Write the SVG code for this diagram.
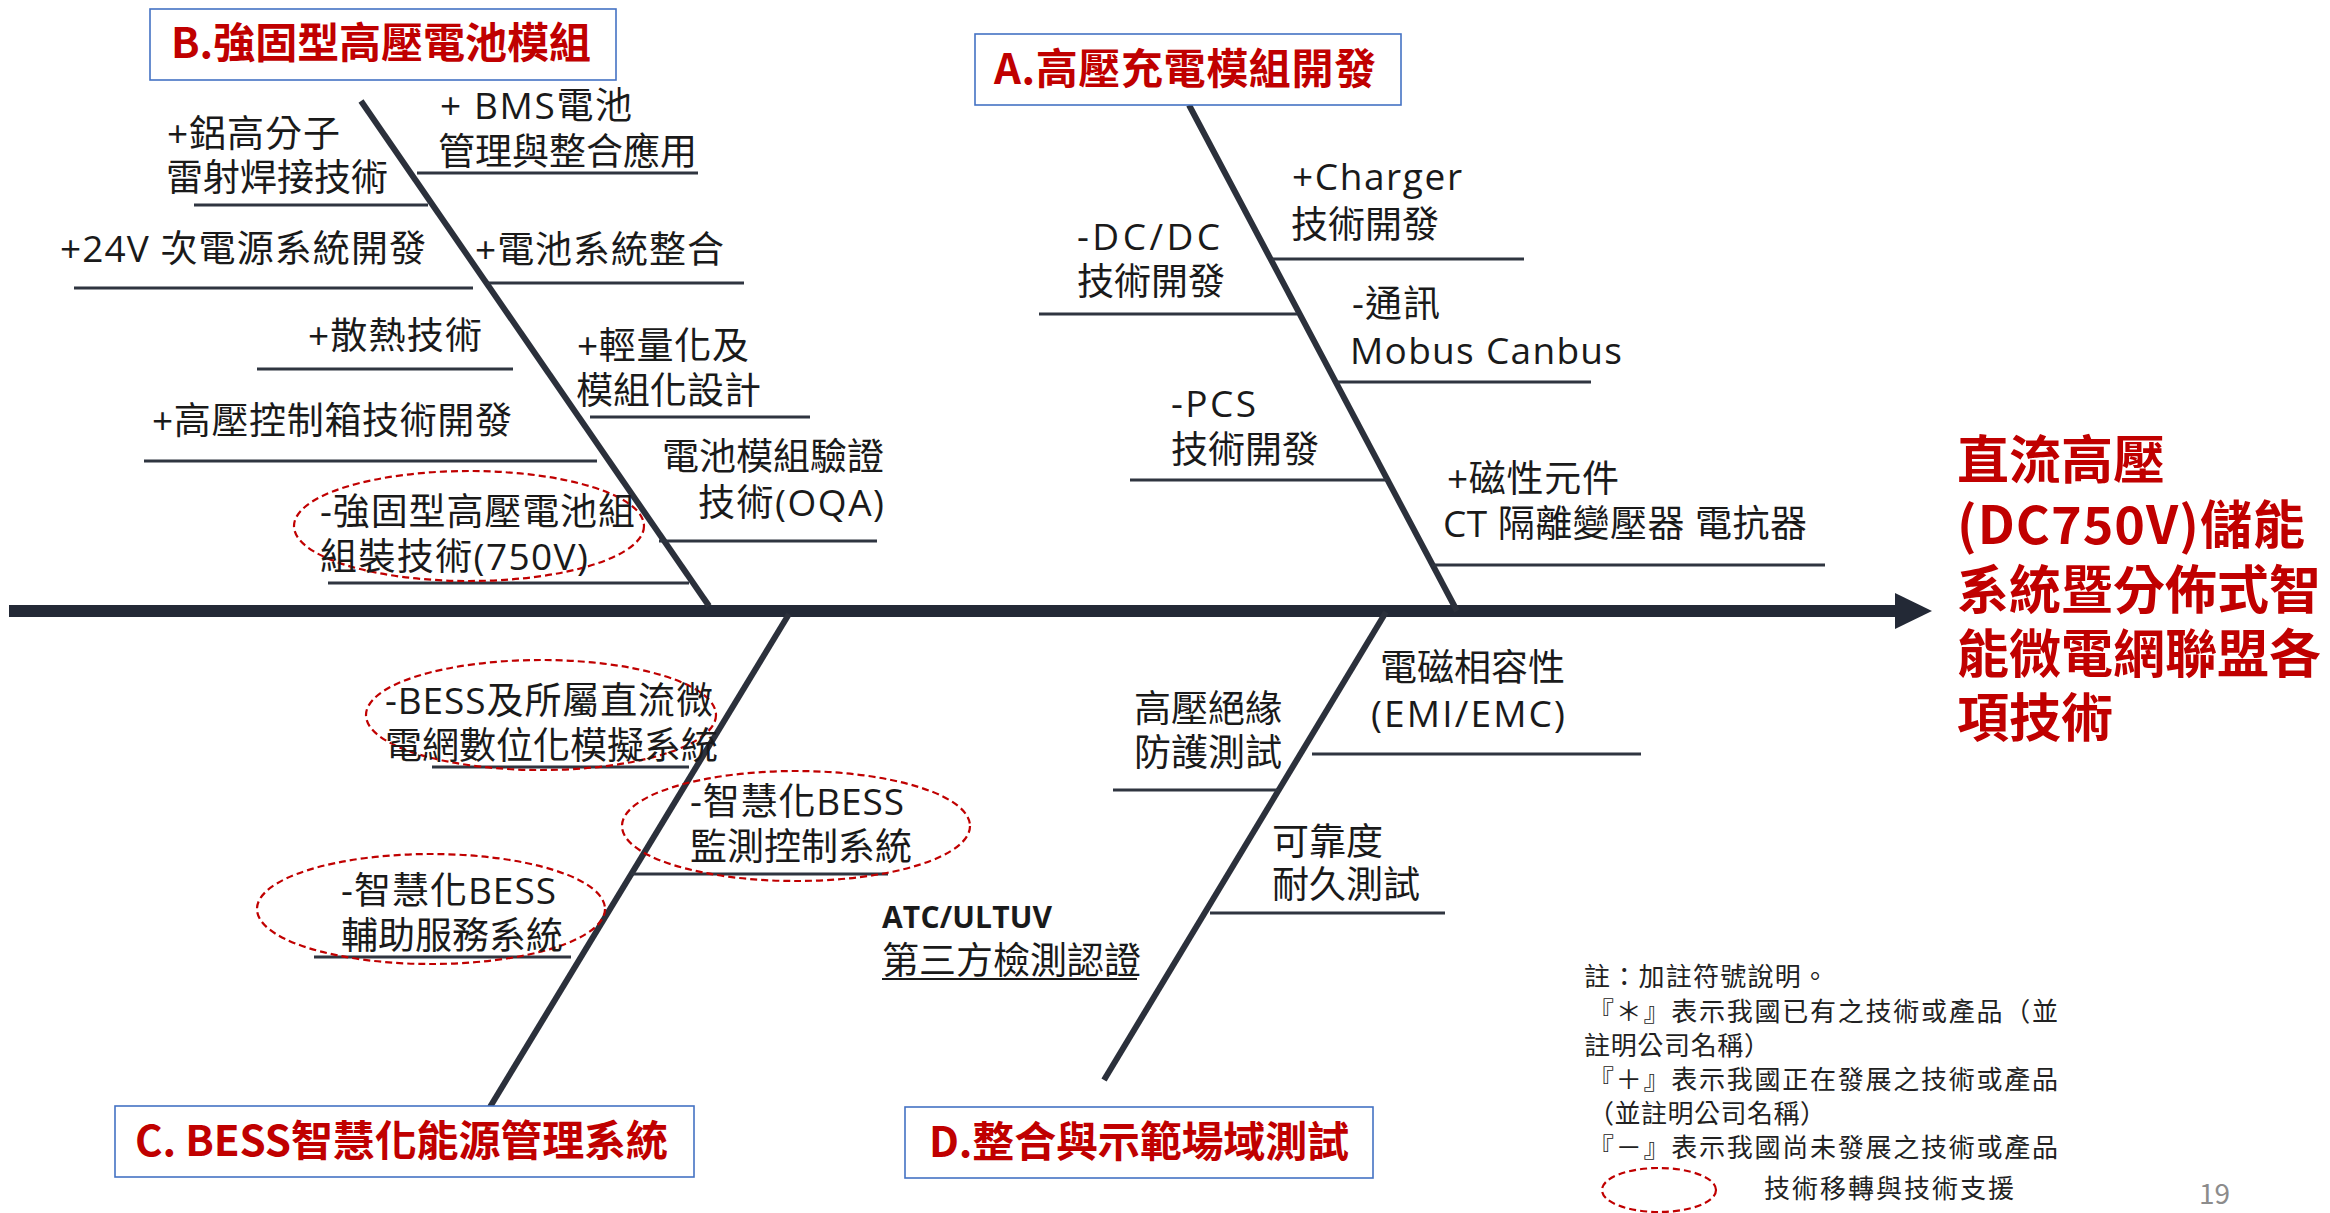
<svg xmlns="http://www.w3.org/2000/svg" width="2330" height="1213" viewBox="0 0 2330 1213">
<style>
.t{font-family:"Open Sans","Noto Sans CJK TC","Noto Sans CJK SC",sans-serif;font-size:37px;fill:#1a1a1a}
.ti{font-family:"Noto Sans CJK TC","Noto Sans CJK SC",sans-serif;font-size:42px;font-weight:bold;fill:#C00000}
.goal{font-family:"Noto Sans CJK TC","Noto Sans CJK SC",sans-serif;font-size:52px;font-weight:bold;fill:#C00000}
.note{font-family:"Noto Sans CJK TC","Noto Sans CJK SC",sans-serif;font-size:26px;fill:#222}
.box{fill:#fff;stroke:#4472C4;stroke-width:1.6}
.br{stroke:#2f3540;stroke-width:3;fill:none}
.sp{stroke:#2b303b;stroke-width:6;fill:none}
.ell{fill:none;stroke:#C00000;stroke-width:2.2;stroke-dasharray:7 4}
</style>
<rect width="2330" height="1213" fill="#fff"/>
<g id="connectors">
<line x1="9" y1="611" x2="1897" y2="611" stroke="#232936" stroke-width="12"/>
<polygon points="1895,593 1932,611 1895,629" fill="#232936"/>
<line class="sp" x1="361" y1="101" x2="709" y2="606"/>
<line class="sp" x1="1189" y1="105" x2="1457" y2="611" stroke="#111"/>
<line class="sp" x1="789" y1="614" x2="490" y2="1107"/>
<line class="sp" x1="1386" y1="612" x2="1104" y2="1080" stroke="#222"/>
<line class="br" x1="194" y1="205" x2="428" y2="205"/>
<line class="br" x1="417" y1="173" x2="698" y2="173"/>
<line class="br" x1="74" y1="288" x2="473" y2="288"/>
<line class="br" x1="487" y1="283" x2="744" y2="283"/>
<line class="br" x1="257" y1="369" x2="513" y2="369"/>
<line class="br" x1="590" y1="417" x2="810" y2="417"/>
<line class="br" x1="144" y1="461" x2="597" y2="461"/>
<line class="br" x1="659" y1="541" x2="877" y2="541"/>
<line class="br" x1="328" y1="583" x2="689" y2="583"/>
<line class="br" x1="1272" y1="259" x2="1524" y2="259"/>
<line class="br" x1="1039" y1="314" x2="1297" y2="314"/>
<line class="br" x1="1336" y1="382" x2="1591" y2="382"/>
<line class="br" x1="1130" y1="480" x2="1387" y2="480"/>
<line class="br" x1="1432" y1="565" x2="1825" y2="565"/>
<line class="br" x1="432" y1="767" x2="689" y2="767"/>
<line class="br" x1="631" y1="874" x2="888" y2="874"/>
<line class="br" x1="314" y1="957" x2="571" y2="957"/>
<line class="br" x1="1312" y1="754" x2="1641" y2="754" stroke="#1a1a1a"/>
<line class="br" x1="1113" y1="790" x2="1279" y2="790" stroke="#1a1a1a"/>
<line class="br" x1="1210" y1="913" x2="1445" y2="913" stroke="#1a1a1a"/>
</g>
<g id="titleB"><rect class="box" x="150" y="9" width="466" height="71"/><text class="ti" x="171" y="58" textLength="420">B.強固型高壓電池模組</text></g>
<g id="titleA"><rect class="box" x="975" y="34" width="426" height="71"/><text class="ti" x="994" y="84" textLength="382">A.高壓充電模組開發</text></g>
<g id="titleC"><rect class="box" x="115" y="1106" width="579" height="71"/><text class="ti" x="135" y="1156" textLength="533">C. BESS智慧化能源管理系統</text></g>
<g id="titleD"><rect class="box" x="905" y="1107" width="468" height="71"/><text class="ti" x="929" y="1157" textLength="420">D.整合與示範場域測試</text></g>
<g id="goal">
<text class="goal"><tspan x="1957" y="479">直流高壓</tspan><tspan x="1957" y="544" textLength="348">(DC750V)儲能</tspan><tspan x="1957" y="609">系統暨分佈式智</tspan><tspan x="1957" y="673">能微電網聯盟各</tspan><tspan x="1957" y="737">項技術</tspan></text>
</g>
<g id="b1"><text class="t"><tspan x="167" y="147" textLength="173">+鋁高分子</tspan><tspan x="166" y="191">雷射焊接技術</tspan></text></g>
<g id="b2"><text class="t"><tspan x="440" y="119" textLength="192">+ BMS電池</tspan><tspan x="438" y="165">管理與整合應用</tspan></text></g>
<g id="b3"><text class="t" x="60" y="262" textLength="366">+24V 次電源系統開發</text></g>
<g id="b4"><text class="t" x="475" y="263" textLength="249">+電池系統整合</text></g>
<g id="b5"><text class="t" x="308" y="349" textLength="174">+散熱技術</text></g>
<g id="b6"><text class="t"><tspan x="577" y="359" textLength="172">+輕量化及</tspan><tspan x="576" y="404">模組化設計</tspan></text></g>
<g id="b7"><text class="t" x="152" y="434" textLength="360">+高壓控制箱技術開發</text></g>
<g id="b8"><text class="t"><tspan x="662" y="470">電池模組驗證</tspan><tspan x="698" y="516" textLength="186">技術(OQA)</tspan></text></g>
<g id="b9"><ellipse class="ell" cx="469" cy="526" rx="175" ry="55"/><text class="t"><tspan x="320" y="525" textLength="315">-強固型高壓電池組</tspan><tspan x="320" y="570" textLength="268">組裝技術(750V)</tspan></text></g>
<g id="a1"><text class="t"><tspan x="1292" y="190" textLength="170">+Charger</tspan><tspan x="1291" y="238">技術開發</tspan></text></g>
<g id="a2"><text class="t"><tspan x="1077" y="250" textLength="143">-DC/DC</tspan><tspan x="1077" y="295">技術開發</tspan></text></g>
<g id="a3"><text class="t"><tspan x="1352" y="317" textLength="88">-通訊</tspan><tspan x="1350" y="364" textLength="272">Mobus Canbus</tspan></text></g>
<g id="a4"><text class="t"><tspan x="1171" y="417" textLength="85">-PCS</tspan><tspan x="1171" y="463">技術開發</tspan></text></g>
<g id="a5"><text class="t"><tspan x="1447" y="492" textLength="172">+磁性元件</tspan><tspan x="1443" y="537" textLength="364">CT 隔離變壓器 電抗器</tspan></text></g>
<g id="c1"><ellipse class="ell" cx="541" cy="715" rx="175" ry="55"/><text class="t"><tspan x="385" y="714" textLength="328">-BESS及所屬直流微</tspan><tspan x="385" y="759">電網數位化模擬系統</tspan></text></g>
<g id="c2"><ellipse class="ell" cx="796" cy="826" rx="174" ry="55"/><text class="t"><tspan x="690" y="815" textLength="214">-智慧化BESS</tspan><tspan x="690" y="860">監測控制系統</tspan></text></g>
<g id="c3"><ellipse class="ell" cx="431" cy="909" rx="174" ry="55"/><text class="t"><tspan x="341" y="904" textLength="215">-智慧化BESS</tspan><tspan x="341" y="949">輔助服務系統</tspan></text></g>
<g id="d1"><text class="t"><tspan x="1380" y="681">電磁相容性</tspan><tspan x="1371" y="727" textLength="194">(EMI/EMC)</tspan></text></g>
<g id="d2"><text class="t"><tspan x="1134" y="722">高壓絕緣</tspan><tspan x="1134" y="766">防護測試</tspan></text></g>
<g id="d3"><text class="t"><tspan x="1272" y="855">可靠度</tspan><tspan x="1272" y="898">耐久測試</tspan></text></g>
<g id="d4"><text class="t"><tspan x="882" y="928" style="font-size:30px;font-weight:bold" textLength="170">ATC/ULTUV</tspan><tspan x="882" y="974">第三方檢測認證</tspan></text><line x1="882" y1="979" x2="1137" y2="979" stroke="#1a1a1a" stroke-width="2"/></g>
<g id="legend">
<text class="note"><tspan x="1584" y="986" textLength="244">註：加註符號說明。</tspan><tspan x="1588" y="1021" textLength="470">『＊』表示我國已有之技術或產品（並</tspan><tspan x="1584" y="1055" textLength="186">註明公司名稱）</tspan><tspan x="1588" y="1089" textLength="470">『＋』表示我國正在發展之技術或產品</tspan><tspan x="1588" y="1123" textLength="238">（並註明公司名稱）</tspan><tspan x="1588" y="1157" textLength="470">『－』表示我國尚未發展之技術或產品</tspan></text>
<ellipse class="ell" cx="1659" cy="1190" rx="57" ry="22"/>
<text class="note" x="1764" y="1198" textLength="250">技術移轉與技術支援</text>
<text x="2199" y="1204" style="font-family:'Noto Sans CJK TC',sans-serif;font-size:28px;fill:#8c8c8c">19</text>
</g>
</svg>
